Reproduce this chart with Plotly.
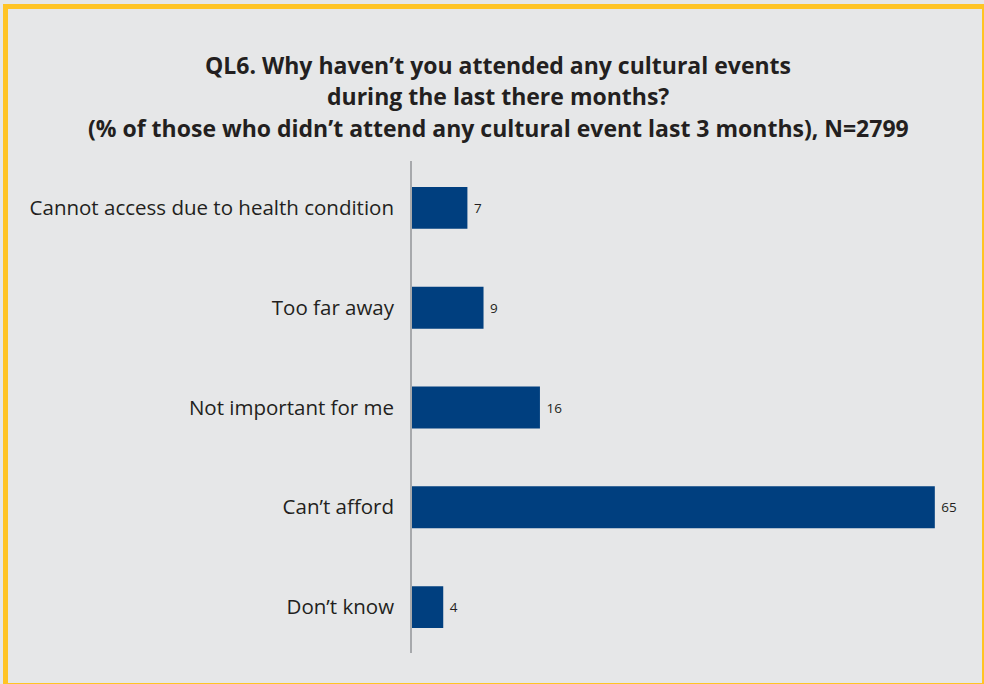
import plotly.graph_objects as go

categories = ["Cannot access due to health condition", "Too far away", "Not important for me", "Can\u2019t afford", "Don\u2019t know"]
values = [7, 9, 16, 65, 4]
title_lines = ["QL6. Why haven\u2019t you attended any cultural events",
               "during the last there months?",
               "(% of those who didn\u2019t attend any cultural event last 3 months), N=2799"]

W, H = 984, 684
ml, mr, mt, mb = 411, 25, 158, 27

fig = go.Figure(go.Bar(
    y=categories, x=values, orientation="h",
    marker=dict(color="#003F7F", line=dict(width=0)),
    texttemplate=" %{x}", textposition="outside",
    textfont=dict(family="Open Sans", size=13.5, color="#231F20"),
    cliponaxis=False, width=0.42,
))

fig.update_layout(
    width=W, height=H,
    margin=dict(l=ml, r=mr, t=mt, b=mb, pad=0),
    paper_bgcolor="#E6E7E8", plot_bgcolor="#E6E7E8",
    showlegend=False,
    xaxis=dict(range=[0, 68], visible=False, fixedrange=True),
    yaxis=dict(autorange="reversed", showline=False,
               ticks="", showgrid=False, zeroline=False, fixedrange=True,
               tickfont=dict(family="Open Sans", size=20.5, color="#231F20"),
               ticksuffix="   "),
)

pw = W - ml - mr
ph = H - mt - mb
def px(x):
    return (x - ml) / pw
def py(y):
    return 1 - (y - mt) / ph

# vertical axis line
fig.add_shape(type="line", xref="paper", yref="paper",
              x0=0, x1=0, y0=py(161), y1=py(653),
              line=dict(color="#A7A9AC", width=2), layer="above")

# yellow frame
fig.add_shape(type="rect", xref="paper", yref="paper",
              x0=px(5.5), x1=px(984.5), y0=py(6.5), y1=py(685.5),
              line=dict(color="#FFC425", width=5), fillcolor="rgba(0,0,0,0)", layer="below")

for i, (t, yy) in enumerate(zip(title_lines, [65, 96, 128])):
    fig.add_annotation(text="<b>" + t + "</b>", xref="paper", yref="paper",
                       x=px(498), y=py(yy), showarrow=False,
                       xanchor="center", yanchor="middle",
                       font=dict(family="Open Sans", size=23, color="#231F20"))

fig.write_html("out.html", config={"displayModeBar": False, "staticPlot": True},
               post_script="document.body.style.margin='0';document.body.style.overflow='hidden';")
